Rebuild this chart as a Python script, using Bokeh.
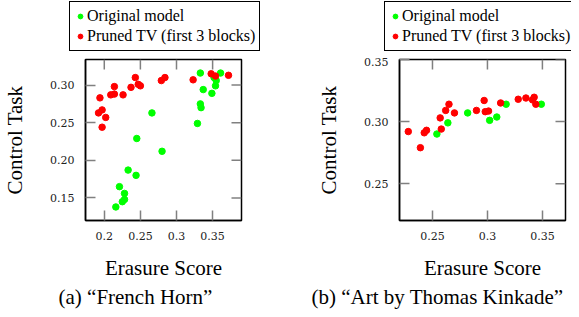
from bokeh.plotting import figure
from bokeh.layouts import row, column
from bokeh.models import (Legend, LegendItem, FixedTicker, Range1d, Title)
from bokeh.embed import file_html
from bokeh.resources import INLINE

# ---------------- data ----------------
# (a) "French Horn"
a_orig_x = [0.333, 0.361, 0.352, 0.355, 0.354, 0.337, 0.349, 0.333, 0.334, 0.329,
            0.266, 0.245, 0.280, 0.233, 0.244, 0.221, 0.228, 0.228, 0.225, 0.216]
a_orig_y = [0.316, 0.316, 0.310, 0.306, 0.299, 0.294, 0.289, 0.275, 0.270, 0.249,
            0.263, 0.229, 0.212, 0.187, 0.180, 0.165, 0.156, 0.148, 0.145, 0.138]
a_pruned_x = [0.192, 0.194, 0.197, 0.197, 0.202, 0.209, 0.214, 0.214, 0.226, 0.237,
              0.243, 0.247, 0.250, 0.279, 0.284, 0.323, 0.348, 0.354, 0.372]
a_pruned_y = [0.263, 0.283, 0.267, 0.244, 0.257, 0.287, 0.288, 0.298, 0.287, 0.297,
              0.310, 0.301, 0.299, 0.306, 0.310, 0.307, 0.315, 0.312, 0.313]
a_xticks = [0.2, 0.25, 0.3, 0.35]
a_xtick_labels = ["0.2", "0.25", "0.3", "0.35"]
a_yticks = [0.15, 0.20, 0.25, 0.30]
a_ytick_labels = ["0.15", "0.20", "0.25", "0.30"]

# (b) "Art by Thomas Kinkade"
b_orig_x = [0.254, 0.264, 0.282, 0.302, 0.3085, 0.317, 0.349]
b_orig_y = [0.290, 0.299, 0.307, 0.301, 0.3037, 0.314, 0.314]
b_pruned_x = [0.228, 0.239, 0.2425, 0.2446, 0.257, 0.258, 0.262, 0.265, 0.270, 0.290,
              0.297, 0.298, 0.301, 0.312, 0.328, 0.335, 0.341, 0.3425, 0.344]
b_pruned_y = [0.292, 0.279, 0.291, 0.293, 0.303, 0.294, 0.309, 0.314, 0.307, 0.309,
              0.317, 0.308, 0.3085, 0.315, 0.318, 0.319, 0.3175, 0.3196, 0.314]
b_xticks = [0.25, 0.3, 0.35]
b_xtick_labels = ["0.25", "0.3", "0.35"]
b_yticks = [0.25, 0.30, 0.35]
b_ytick_labels = ["0.25", "0.30", "0.35"]

series_labels = ["Original model", "Pruned TV (first 3 blocks)"]
series_colors = ["#00ff00", "#ff0000"]
x_label = "Erasure Score"
y_label = "Control Task"
captions = ["(a) \u201cFrench Horn\u201d", "(b) \u201cArt by Thomas Kinkade\u201d"]

SERIF = "Liberation Serif"
TICKFONT = "DejaVu Serif"
TICK_COLOR = "#808080"
MARK = 6.5
LEG_H = 57
PLOT_H = 252


def style_axis(ax, ticks, labels):
    ax.ticker = FixedTicker(ticks=ticks)
    ax.major_label_overrides = {t: l for t, l in zip(ticks, labels)}
    ax.major_tick_in = 10
    ax.major_tick_out = 0
    ax.major_tick_line_color = TICK_COLOR
    ax.major_tick_line_width = 1.5
    ax.minor_tick_line_color = None
    ax.axis_line_color = "black"
    ax.axis_line_width = 1.5
    ax.major_label_text_font = TICKFONT
    ax.major_label_text_font_size = "11px"
    ax.major_label_text_color = "#222222"
    ax.axis_label_text_font = SERIF
    ax.axis_label_text_font_size = "21px"
    ax.axis_label_text_font_style = "normal"
    ax.axis_label_text_color = "black"


def make_legend_fig(width, leg_x, xs, ys):
    # legend-only canvas; its series are kept outside the visible range
    f = figure(width=width, height=LEG_H, output_backend="svg", toolbar_location=None,
               x_range=Range1d(0, 1), y_range=Range1d(10, 11),
               x_axis_type=None, y_axis_type=None, frame_align=False,
               min_border_left=0, min_border_right=0, min_border_top=0, min_border_bottom=0)
    f.outline_line_color = None
    f.xgrid.visible = False
    f.ygrid.visible = False
    rends = [f.scatter(x, y, size=MARK, fill_color=c, line_color=c)
             for x, y, c in zip(xs, ys, series_colors)]
    legend = Legend(items=[LegendItem(label=l, renderers=[r]) for l, r in zip(series_labels, rends)],
                    location=(leg_x, 6), orientation="vertical")
    legend.label_text_font = SERIF
    legend.label_text_font_size = "16px"
    legend.label_text_color = "black"
    legend.label_height = 20
    legend.glyph_height = 20
    legend.glyph_width = 12
    legend.label_standoff = 1
    legend.spacing = 0
    legend.padding = 4
    legend.margin = 0
    legend.border_line_color = "black"
    legend.border_line_width = 1.5
    legend.border_line_alpha = 1
    legend.background_fill_color = "white"
    legend.background_fill_alpha = 1
    f.add_layout(legend, "center")
    return f


def make_plot(ox, oy, px, py, xr, yr, xt, xtl, yt, ytl, caption,
              width, mb_left, mb_right, cap_offset):
    p = figure(width=width, height=PLOT_H, output_backend="svg", toolbar_location=None,
               x_range=Range1d(*xr), y_range=Range1d(*yr), frame_align=False,
               min_border_left=mb_left, min_border_right=mb_right,
               min_border_top=2, min_border_bottom=PLOT_H - 2 - 163,
               x_axis_label=x_label, y_axis_label=y_label)
    p.xgrid.visible = False
    p.ygrid.visible = False
    p.outline_line_color = "black"
    p.outline_line_width = 1.5
    p.background_fill_color = "white"
    p.border_fill_color = "white"

    style_axis(p.xaxis[0], xt, xtl)
    style_axis(p.yaxis[0], yt, ytl)
    p.xaxis.major_label_standoff = 11
    p.yaxis.major_label_standoff = 11
    p.xaxis.axis_label_standoff = 13
    p.yaxis.axis_label_standoff = 20

    # mirrored ticks on the top and right edges of the frame
    p.ray(x=xt, y=[yr[1]] * len(xt), length=10, length_units="screen",
          angle=-90, angle_units="deg", line_color=TICK_COLOR, line_width=1.5)
    p.ray(x=[xr[1]] * len(yt), y=yt, length=10, length_units="screen",
          angle=180, angle_units="deg", line_color=TICK_COLOR, line_width=1.5)

    p.scatter(ox, oy, size=MARK, fill_color=series_colors[0], line_color=series_colors[0])
    p.scatter(px, py, size=MARK, fill_color=series_colors[1], line_color=series_colors[1])

    t = Title(text=caption, align="left", offset=cap_offset, standoff=1,
              text_font=SERIF, text_font_size="21px", text_font_style="normal",
              text_color="black")
    p.add_layout(t, "below")
    return p


la = make_legend_fig(292, 69, [a_orig_x, a_pruned_x], [a_orig_y, a_pruned_y])
lb = make_legend_fig(279, 92, [b_orig_x, b_pruned_x], [b_orig_y, b_pruned_y])
pa = make_plot(a_orig_x, a_orig_y, a_pruned_x, a_pruned_y,
               (0.174, 0.390), (0.120, 0.334),
               a_xticks, a_xtick_labels, a_yticks, a_ytick_labels, captions[0],
               width=292, mb_left=77, mb_right=51, cap_offset=-27)
pb = make_plot(b_orig_x, b_orig_y, b_pruned_x, b_pruned_y,
               (0.220, 0.371), (0.2204, 0.350),
               b_xticks, b_xtick_labels, b_yticks, b_ytick_labels, captions[1],
               width=279, mb_left=107, mb_right=6, cap_offset=-88)

layout = row(column(la, pa), column(lb, pb))
open("out.html", "w").write(file_html(layout, INLINE))
